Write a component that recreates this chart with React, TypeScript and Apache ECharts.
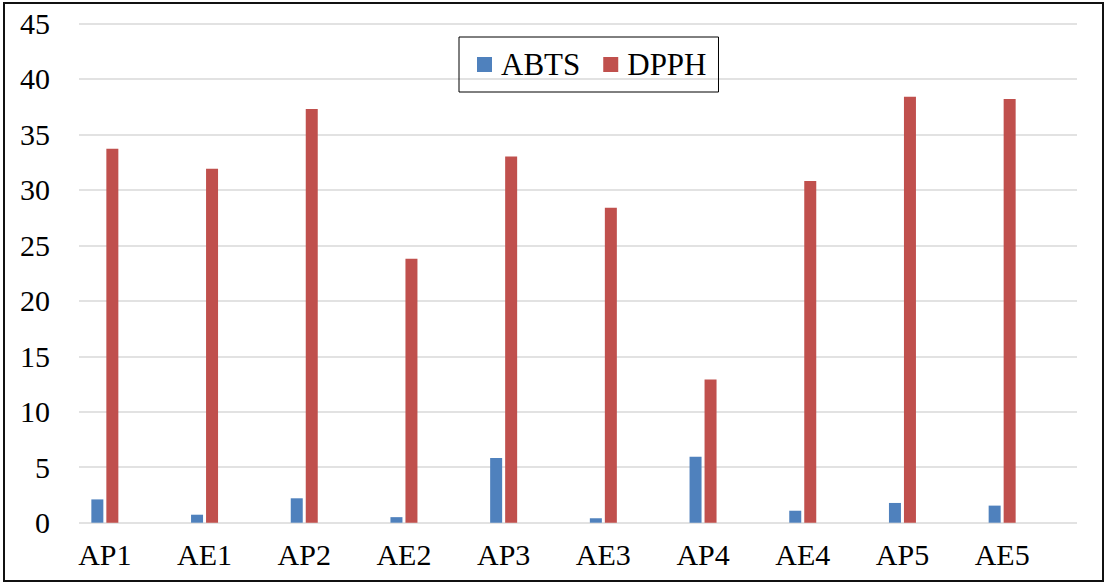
import React, { useEffect, useRef } from "react";
import * as echarts from "echarts";

const categories = ["AP1", "AE1", "AP2", "AE2", "AP3", "AE3", "AP4", "AE4", "AP5", "AE5"];
const abts = [2.1, 0.72, 2.2, 0.5, 5.83, 0.4, 5.95, 1.08, 1.78, 1.54];
const dpph = [33.7, 31.9, 37.3, 23.8, 33.0, 28.4, 12.9, 30.8, 38.4, 38.2];
const yTicks = { min: 0, max: 45, interval: 5 };

const FONT = "Liberation Serif";

export default function App() {
  const ref = useRef<HTMLDivElement>(null);
  useEffect(() => {
    const chart = echarts.init(ref.current!, null, { renderer: "svg" });
    chart.setOption({
      animation: false,
      backgroundColor: "#ffffff",
      textStyle: { fontFamily: FONT },
      grid: [
        { left: 79, right: 30, top: 23.5, bottom: 60.3 },
        { left: 55, right: 55, top: 23.5, bottom: 60.3 },
      ],
      legend: {
        data: ["ABTS", "DPPH"],
        left: 459,
        top: 37,
        orient: "horizontal",
        borderColor: "#000",
        borderWidth: 1,
        padding: [12, 12, 12, 18],
        itemWidth: 15,
        itemHeight: 15,
        itemGap: 23,
        icon: "rect",
        textStyle: { fontFamily: FONT, fontSize: 31, color: "#000", padding: [0, 0, 0, 4] },
      },
      xAxis: [
        { gridIndex: 0, type: "value", min: 0, max: 1, show: false },
        {
          gridIndex: 1,
          type: "category",
          data: categories,
          axisLine: { show: false },
          axisTick: { show: false },
          axisLabel: { fontFamily: FONT, fontSize: 30, color: "#000", margin: 17 },
        },
      ],
      yAxis: [
        {
          gridIndex: 0,
          type: "value",
          min: yTicks.min,
          max: yTicks.max,
          interval: yTicks.interval,
          axisLine: { show: false },
          axisTick: { show: false },
          axisLabel: { fontFamily: FONT, fontSize: 30, color: "#000", margin: 29 },
          splitLine: { lineStyle: { color: "#d9d9d9", width: 1.5 } },
        },
        {
          gridIndex: 1,
          type: "value",
          min: yTicks.min,
          max: yTicks.max,
          interval: yTicks.interval,
          show: false,
          splitLine: { show: false },
        },
      ],
      series: [
        {
          name: "ABTS",
          type: "bar",
          xAxisIndex: 1,
          yAxisIndex: 1,
          data: abts,
          barWidth: 12,
          barGap: "25%",
          itemStyle: { color: "#4f81bd" },
        },
        {
          name: "DPPH",
          type: "bar",
          xAxisIndex: 1,
          yAxisIndex: 1,
          data: dpph,
          barWidth: 12,
          barGap: "25%",
          itemStyle: { color: "#c0504d" },
        },
      ],
      graphic: [
        {
          type: "rect",
          shape: { x: 4, y: 3, width: 1099, height: 578 },
          style: { fill: "none", stroke: "#111", lineWidth: 2 },
          silent: true,
        },
      ],
    });
    return () => chart.dispose();
  }, []);
  return (
    <div
      ref={ref}
      style={{ position: "fixed", left: 0, top: 0, width: 1107, height: 583 }}
    />
  );
}
